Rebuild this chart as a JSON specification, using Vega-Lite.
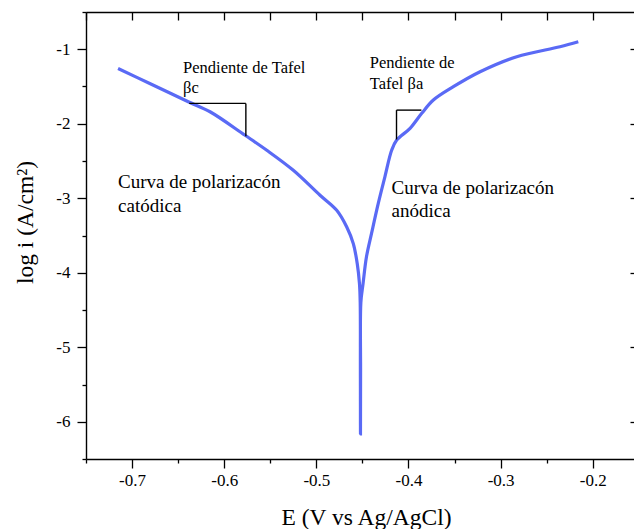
{
  "$schema": "https://vega.github.io/schema/vega-lite/v6.json",
  "width": 548,
  "height": 447,
  "autosize": {"type": "none"},
  "padding": {"left": 86, "top": 12, "right": 0, "bottom": 70},
  "background": "white",
  "config": {
    "view": {"stroke": null},
    "font": "Liberation Serif",
    "axis": {
      "grid": false,
      "domainColor": "black",
      "domainWidth": 1.4,
      "tickColor": "black",
      "tickWidth": 1.3,
      "labelFont": "Liberation Serif",
      "labelFontSize": 17,
      "labelColor": "black",
      "titleFont": "Liberation Serif",
      "titleFontWeight": "normal",
      "titleColor": "black"
    }
  },
  "datasets": {
    "curve": [
      {"idx": 0, "E": -0.7152, "logi": -1.259},
      {"idx": 1, "E": -0.6808, "logi": -1.46},
      {"idx": 2, "E": -0.639, "logi": -1.705},
      {"idx": 3, "E": -0.6154, "logi": -1.839},
      {"idx": 4, "E": -0.5774, "logi": -2.155},
      {"idx": 5, "E": -0.5538, "logi": -2.356},
      {"idx": 6, "E": -0.525, "logi": -2.625},
      {"idx": 7, "E": -0.496, "logi": -2.96},
      {"idx": 8, "E": -0.4779, "logi": -3.162},
      {"idx": 9, "E": -0.467, "logi": -3.386},
      {"idx": 10, "E": -0.4599, "logi": -3.609},
      {"idx": 11, "E": -0.4556, "logi": -3.878},
      {"idx": 12, "E": -0.4532, "logi": -4.146},
      {"idx": 13, "E": -0.4524, "logi": -4.4},
      {"idx": 14, "E": -0.4522, "logi": -5.3},
      {"idx": 15, "E": -0.4521, "logi": -6.163},
      {"idx": 16, "E": -0.452, "logi": -5.3},
      {"idx": 17, "E": -0.4517, "logi": -4.4},
      {"idx": 18, "E": -0.4493, "logi": -4.146},
      {"idx": 19, "E": -0.4456, "logi": -3.786},
      {"idx": 20, "E": -0.4401, "logi": -3.472},
      {"idx": 21, "E": -0.4328, "logi": -3.069},
      {"idx": 22, "E": -0.4256, "logi": -2.712},
      {"idx": 23, "E": -0.4182, "logi": -2.353},
      {"idx": 24, "E": -0.4128, "logi": -2.219},
      {"idx": 25, "E": -0.3983, "logi": -2.062},
      {"idx": 26, "E": -0.3856, "logi": -1.86},
      {"idx": 27, "E": -0.373, "logi": -1.682},
      {"idx": 28, "E": -0.3513, "logi": -1.503},
      {"idx": 29, "E": -0.3223, "logi": -1.302},
      {"idx": 30, "E": -0.2825, "logi": -1.1},
      {"idx": 31, "E": -0.2356, "logi": -0.966},
      {"idx": 32, "E": -0.2157, "logi": -0.899}
    ],
    "tafel": [
      {"x1": -0.638, "y1": -1.727, "x2": -0.5765, "y2": -1.727},
      {"x1": -0.5765, "y1": -1.727, "x2": -0.5765, "y2": -2.167},
      {"x1": -0.413, "y1": -1.817, "x2": -0.413, "y2": -2.211},
      {"x1": -0.413, "y1": -1.817, "x2": -0.386, "y2": -1.817}
    ],
    "labels": [
      {"label": "Pendiente de Tafel", "E": -0.6446, "logi": -1.322, "kind": "small"},
      {"label": "βc", "E": -0.6446, "logi": -1.592, "kind": "small"},
      {"label": "Pendiente de", "E": -0.442, "logi": -1.256, "kind": "small"},
      {"label": "Tafel βa", "E": -0.442, "logi": -1.538, "kind": "small"},
      {"label": "Curva de polarizacón", "E": -0.7152, "logi": -2.868, "kind": "big"},
      {"label": "catódica", "E": -0.7152, "logi": -3.182, "kind": "big"},
      {"label": "Curva de polarizacón", "E": -0.4184, "logi": -2.944, "kind": "big"},
      {"label": "anódica", "E": -0.4184, "logi": -3.249, "kind": "big"}
    ]
  },
  "layer": [
    {
      "data": {"name": "curve"},
      "mark": {"type": "line", "color": "#5a6af5", "strokeWidth": 3.2, "clip": true, "interpolate": "catmull-rom"},
      "encoding": {
        "x": {
          "field": "E", "type": "quantitative",
          "scale": {"domain": [-0.75, -0.15525], "nice": false, "zero": false},
          "axis": {
            "orient": "bottom",
            "title": "E (V vs Ag/AgCl)",
            "titleFontSize": 23.5,
            "titleX": 280,
            "titleY": 65,
            "titleAlign": "center",
            "titleBaseline": "alphabetic",
            "values": [-0.75, -0.7, -0.65, -0.6, -0.55, -0.5, -0.45, -0.4, -0.35, -0.3, -0.25, -0.2],
            "labelExpr": "abs(datum.value*10 - round(datum.value*10)) < 0.01 ? '-' + format(abs(datum.value), '.1f') : ''",
            "tickSize": {"condition": {"test": "abs(datum.value*10 - round(datum.value*10)) < 0.01", "value": 9}, "value": 4},
            "labelPadding": 4,
            "labelFlush": false,
            "labelOverlap": false
          }
        },
        "y": {
          "field": "logi", "type": "quantitative",
          "scale": {"domain": [-6.5, -0.5], "nice": false, "zero": false},
          "axis": {
            "orient": "left",
            "title": "log i (A/cm²)",
            "titleFontSize": 23.5,
            "titleAngle": -90,
            "titleX": -61,
            "titleY": 210,
            "titleAlign": "center",
            "titleBaseline": "middle",
            "values": [-6.5, -6, -5.5, -5, -4.5, -4, -3.5, -3, -2.5, -2, -1.5, -1, -0.5],
            "labelExpr": "abs(datum.value - round(datum.value)) < 0.01 ? '-' + format(abs(datum.value), 'd') : ''",
            "tickSize": {"condition": {"test": "abs(datum.value - round(datum.value)) < 0.01", "value": 9}, "value": 4},
            "labelPadding": 7,
            "labelFlush": false,
            "labelOverlap": false
          }
        },
        "order": {"field": "idx", "type": "quantitative"}
      }
    },
    {
      "data": {"name": "tafel"},
      "mark": {"type": "rule", "color": "black", "strokeWidth": 1.4},
      "encoding": {
        "x": {
          "field": "x1", "type": "quantitative",
          "axis": {
            "orient": "top",
            "title": null,
            "labels": false,
            "values": [-0.75, -0.7, -0.65, -0.6, -0.55, -0.5, -0.45, -0.4, -0.35, -0.3, -0.25, -0.2],
            "tickSize": -8
          }
        },
        "x2": {"field": "x2"},
        "y": {
          "field": "y1", "type": "quantitative",
          "axis": {
            "orient": "right",
            "title": null,
            "labels": false,
            "domain": false,
            "values": [-6, -5, -4, -3, -2, -1],
            "tickSize": -4
          }
        },
        "y2": {"field": "y2"}
      }
    },
    {
      "data": {"name": "labels"},
      "transform": [{"filter": "datum.kind === 'small'"}],
      "mark": {"type": "text", "align": "left", "baseline": "alphabetic", "font": "Liberation Serif", "fontSize": 16.5, "color": "black"},
      "encoding": {
        "x": {"field": "E", "type": "quantitative", "axis": null},
        "y": {"field": "logi", "type": "quantitative", "axis": null},
        "text": {"field": "label"}
      }
    },
    {
      "data": {"name": "labels"},
      "transform": [{"filter": "datum.kind === 'big'"}],
      "mark": {"type": "text", "align": "left", "baseline": "alphabetic", "font": "Liberation Serif", "fontSize": 19, "color": "black"},
      "encoding": {
        "x": {"field": "E", "type": "quantitative", "axis": null},
        "y": {"field": "logi", "type": "quantitative", "axis": null},
        "text": {"field": "label"}
      }
    }
  ],
  "resolve": {"axis": {"x": "independent", "y": "independent"}}
}
